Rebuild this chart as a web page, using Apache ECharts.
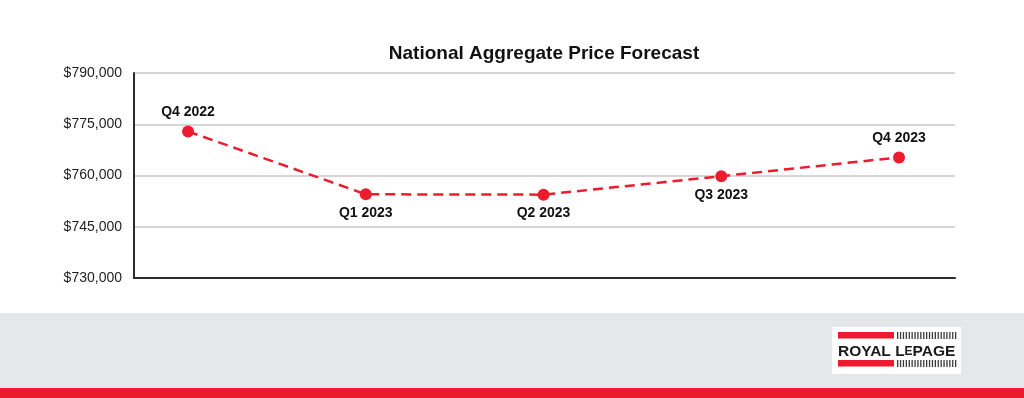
<!DOCTYPE html>
<html>
<head>
<meta charset="utf-8">
<script src="https://cdn.jsdelivr.net/npm/echarts@6/dist/echarts.min.js"></script>
<style>
html,body{margin:0;padding:0;background:#fff;}
#chart{width:1024px;height:398px;}
</style>
</head>
<body>
<div id="chart"></div>
<script>
const categories = ['Q4 2022', 'Q1 2023', 'Q2 2023', 'Q3 2023', 'Q4 2023'];
const prices = [772900, 754500, 754400, 759800, 765300];
const labelPositions = ['top', 'bottom', 'bottom', 'bottom', 'top'];
const yTicks = [730000, 745000, 760000, 775000, 790000];

const FONT = '"Liberation Sans", Arial, Helvetica, sans-serif';
const RED = '#ec1c2e';

const chart = echarts.init(document.getElementById('chart'), null, {renderer: 'canvas'});

// logo stripes
const stripes = [];
function addStripes(x0, x1, y0, y1) {
  for (let x = x0; x <= x1; x += 2.9) {
    stripes.push({type: 'rect', shape: {x: x, y: y0, width: 1.3, height: y1 - y0}, style: {fill: '#3a3a3a'}, silent: true});
  }
}
addStripes(897, 955, 332, 339);
addStripes(897, 955, 360, 367);

const option = {
  backgroundColor: '#ffffff',
  animation: false,
  title: {
    text: 'National Aggregate Price Forecast',
    left: 539,
    top: 39,
    textAlign: 'center',
    textStyle: {fontFamily: FONT, fontSize: 19, fontWeight: 'bold', color: '#111'}
  },
  grid: {left: 134, right: 69, top: 73, bottom: 120, containLabel: false},
  xAxis: {
    type: 'value',
    min: -0.304,
    max: 4.315,
    axisLine: {show: true, onZero: false, lineStyle: {color: '#2b2b2b', width: 2}},
    axisTick: {show: false},
    axisLabel: {show: false},
    splitLine: {show: false}
  },
  yAxis: {
    type: 'value',
    min: yTicks[0],
    max: yTicks[yTicks.length - 1],
    interval: 15000,
    axisLine: {show: true, onZero: false, lineStyle: {color: '#2b2b2b', width: 2}},
    axisTick: {show: false},
    axisLabel: {
      fontFamily: FONT, fontSize: 14, color: '#1e1e1e', margin: 12,
      formatter: v => '$' + v.toLocaleString('en-US')
    },
    splitLine: {show: true, lineStyle: {color: '#c8c8c8', width: 1.5}}
  },
  graphic: [
    {type: 'rect', z: -10, shape: {x: 0, y: 313, width: 1024, height: 75}, style: {fill: '#e6e7e9'}, silent: true},
    {type: 'rect', z: -10, shape: {x: 0, y: 388, width: 1024, height: 10}, style: {fill: RED}, silent: true},
    {type: 'group', children: [
      {type: 'rect', shape: {x: 832, y: 327, width: 129, height: 47}, style: {fill: '#ffffff'}, silent: true},
      {type: 'rect', shape: {x: 838, y: 332, width: 56, height: 6.5}, style: {fill: RED}, silent: true},
      {type: 'rect', shape: {x: 838, y: 360, width: 56, height: 6.5}, style: {fill: RED}, silent: true},
      {type: 'text', x: 838, y: 351.5, style: {
        text: 'ROYAL L{s|E}PAGE', fontFamily: FONT, fontSize: 15.5, fontWeight: 'bold', fill: '#1a1a1a',
        verticalAlign: 'middle', rich: {s: {fontFamily: FONT, fontSize: 12, fontWeight: 'bold', fill: '#1a1a1a'}}
      }, silent: true}
    ].concat(stripes)}
  ],
  series: [{
    type: 'line',
    data: prices.map((v, i) => ({
      value: [i, v],
      label: {position: labelPositions[i]}
    })),
    symbol: 'circle',
    symbolSize: 12,
    itemStyle: {color: RED},
    lineStyle: {color: RED, width: 2.5, type: [10, 6]},
    label: {
      show: true,
      distance: 6,
      fontFamily: FONT, fontSize: 14, fontWeight: 'bold', color: '#111',
      formatter: p => categories[p.dataIndex]
    }
  }]
};
chart.setOption(option);
</script>
</body>
</html>
